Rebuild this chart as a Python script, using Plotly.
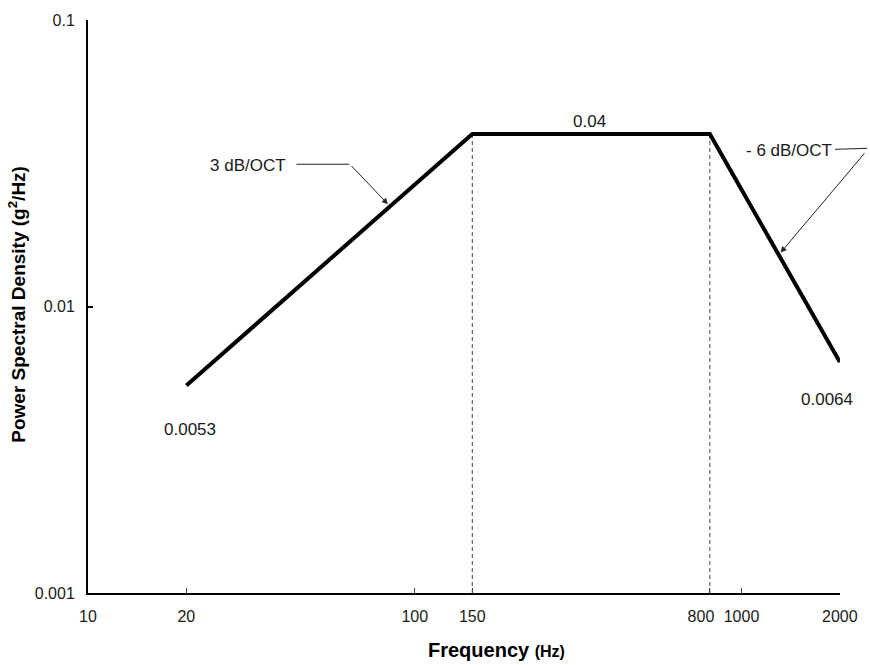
import numpy as np
import plotly.graph_objects as go

# Data
freq = [20, 150, 800, 2000]
psd = [0.0053, 0.04, 0.04, 0.0064]
corner_freqs = [150, 800]
x_tick_vals = [10, 20, 100, 150, 800, 1000, 2000]
x_tick_text = ["10", "20", "100", "150", "800\u00a0\u00a0\u00a0\u00a0", "1000", "2000"]
y_tick_vals = [0.001, 0.01, 0.1]
y_tick_text = ["0.001", "0.01", "0.1"]
slope_labels = ["3 dB/OCT", "- 6 dB/OCT"]
level_labels = ["0.0053", "0.04", "0.0064"]

FONT = "Liberation Sans, Arial, sans-serif"
TXT = "#1a1a1a"

# plot-area geometry (pixels)
L, T, PW, PH = 88, 17, 754, 576


def px(xp):
    return (xp - L) / PW


def py(yp):
    return 1 - (yp - T) / PH


fig = go.Figure()

# dashed verticals at the corners
for f in corner_freqs:
    fig.add_trace(go.Scatter(x=[f, f], y=[psd[1], 0.001], mode="lines",
                             line=dict(color="#444444", width=1, dash="4px,3px"),
                             hoverinfo="skip", showlegend=False))

# profile
fig.add_trace(go.Scatter(x=freq, y=psd, mode="lines",
                         line=dict(color="black", width=4),
                         showlegend=False))


def loglog_interp(f, f0, p0, f1, p1):
    t = (np.log10(f) - np.log10(f0)) / (np.log10(f1) - np.log10(f0))
    return 10 ** (np.log10(p0) + t * (np.log10(p1) - np.log10(p0)))


annotations = []
lab_font = dict(family=FONT, size=17, color=TXT)
# level labels
annotations.append(dict(x=np.log10(freq[0]), y=np.log10(psd[0]), xref="x", yref="y",
                        xanchor="center", yanchor="middle",
                        text=level_labels[0], showarrow=False, yshift=-44, xshift=4,
                        font=lab_font))
annotations.append(dict(x=np.log10(np.sqrt(freq[1] * freq[2])), y=np.log10(psd[1]), xref="x", yref="y",
                        xanchor="center", yanchor="middle",
                        text=level_labels[1], showarrow=False, yshift=13, xshift=-2,
                        font=lab_font))
annotations.append(dict(x=np.log10(freq[3]), y=np.log10(psd[3]), xref="x", yref="y",
                        xanchor="center", yanchor="middle",
                        text=level_labels[2], showarrow=False, yshift=-37, xshift=-13,
                        font=lab_font))

# slope arrows
f_a = 84
annotations.append(dict(x=np.log10(f_a), y=np.log10(loglog_interp(f_a, freq[0], psd[0], freq[1], psd[1])),
                        xref="x", yref="y", ax=-40, ay=-42, showarrow=True,
                        arrowhead=2, arrowsize=1.2, arrowwidth=1, arrowcolor="#222222", text="",
                        standoff=3))
f_b = 1300
annotations.append(dict(x=np.log10(f_b), y=np.log10(loglog_interp(f_b, freq[2], psd[2], freq[3], psd[3])),
                        xref="x", yref="y", ax=87, ay=-103, showarrow=True,
                        arrowhead=2, arrowsize=1.2, arrowwidth=1, arrowcolor="#222222", text="",
                        standoff=3))

# slope text labels
annotations.append(dict(x=px(289), y=py(163), xref="paper", yref="paper",
                        text=slope_labels[0], showarrow=False, xanchor="right", yanchor="middle",
                        font=lab_font))
annotations.append(dict(x=px(836), y=py(148), xref="paper", yref="paper",
                        text=slope_labels[1], showarrow=False, xanchor="right", yanchor="middle",
                        font=lab_font))

# axis titles
annotations.append(dict(x=px(498), y=py(650), xref="paper", yref="paper",
                        xanchor="center", yanchor="middle",
                        text="<b>Frequency</b> <b><span style='font-size:16px'>(Hz)</span></b>",
                        showarrow=False, font=dict(family=FONT, size=20, color="black")))
annotations.append(dict(x=px(16), y=py(303), xref="paper", yref="paper",
                        xanchor="center", yanchor="middle",
                        text="<b>Power Spectral Density (g<sup>2</sup>/Hz)</b>", textangle=-90,
                        showarrow=False, font=dict(family=FONT, size=19, color="black")))

shapes = [
    dict(type="line", xref="paper", yref="paper",
         x0=px(297), x1=px(350), y0=py(162), y1=py(162),
         line=dict(color="#222222", width=1)),
    dict(type="line", xref="paper", yref="paper",
         x0=px(837), x1=px(869), y0=py(147), y1=py(146),
         line=dict(color="#222222", width=1)),
]

fig.update_layout(
    width=870, height=665,
    margin=dict(l=L, r=870 - L - PW, t=T, b=665 - T - PH),
    paper_bgcolor="white", plot_bgcolor="white",
    annotations=annotations, shapes=shapes,
    xaxis=dict(type="log", range=[1, np.log10(2002)], tickvals=x_tick_vals, ticktext=x_tick_text,
               showgrid=False, zeroline=False, showline=True, linecolor="black", linewidth=2,
               ticks="inside", ticklen=5, tickwidth=1, tickcolor="#444444",
               ticklabelstandoff=8, tickangle=0,
               tickfont=dict(family=FONT, size=16, color=TXT)),
    yaxis=dict(type="log", range=[-3, -1], tickvals=y_tick_vals, ticktext=y_tick_text,
               showgrid=False, zeroline=False, showline=True, linecolor="black", linewidth=2,
               ticks="inside", ticklen=5, tickwidth=2, tickcolor="black",
               ticklabelstandoff=8,
               tickfont=dict(family=FONT, size=16, color=TXT)),
)

fig.write_html("out.html", config={"displayModeBar": False},
               post_script="document.body.style.margin='0';")
